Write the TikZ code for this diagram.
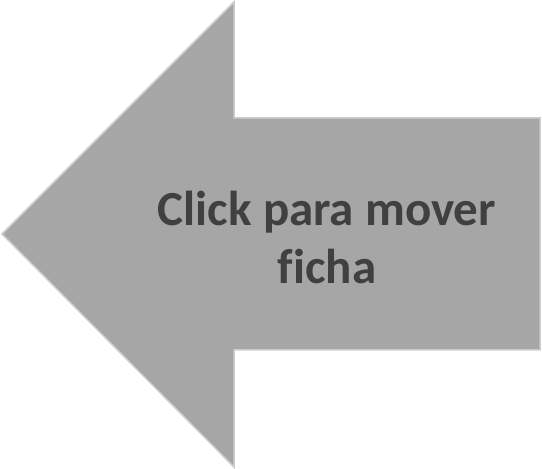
\documentclass[tikz,border=0pt]{standalone}
\usepackage{fontspec}
\newfontfamily\calibrifont[Ligatures=NoCommon]{Carlito}
\usetikzlibrary{positioning}
\definecolor{ArrowGray}{HTML}{A6A6A6}
\definecolor{EdgeGray}{HTML}{CDCDCD}
\definecolor{LabelGray}{HTML}{404040}

\begin{document}
\begin{tikzpicture}[x=1pt, y=1pt]
            \useasboundingbox (0,0) rectangle (542,469);
            % back arrow
            \draw[draw=EdgeGray, line width=1.5pt, fill=ArrowGray, line join=miter]
                (2,235) -- (234,467) -- (234,351) -- (540,351) -- (540,119) -- (234,119) -- (234,2) -- cycle;
            \node[color=LabelGray, font=\calibrifont\bfseries\fontsize{49}{58}\selectfont, align=center, inner sep=0pt] (label) at (327, 232) {Click para mover\\ficha};
        \end{tikzpicture}
\end{document}
